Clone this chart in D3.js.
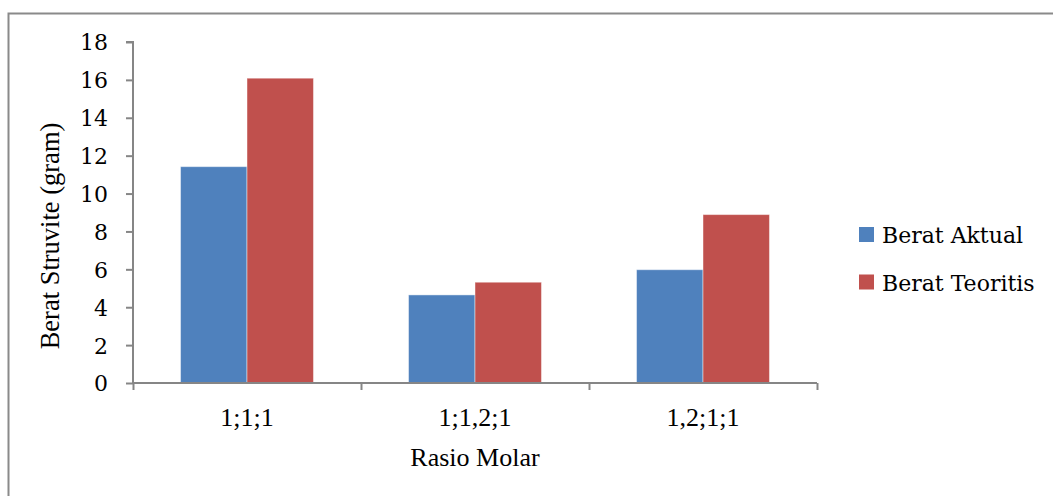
<!DOCTYPE html>
<html>
<head>
<meta charset="utf-8">
<script src="https://cdn.jsdelivr.net/npm/d3@7"></script>
<style>
  body { margin: 0; background: #fff; }
  svg { display: block; }
</style>
</head>
<body>
<svg id="chart" width="1053" height="496"></svg>
<script>
const categories = ["1;1;1", "1;1,2;1", "1,2;1;1"];
const seriesNames = ["Berat Aktual", "Berat Teoritis"];
const beratAktual = [11.42, 4.65, 5.98];
const beratTeoritis = [16.09, 5.32, 8.89];
const yTicks = [0, 2, 4, 6, 8, 10, 12, 14, 16, 18];
const colors = ["#4F81BD", "#C0504D"];

const plot = { left: 133, right: 817, top: 42, bottom: 383 };
const tickFont = "'DejaVu Serif', serif";
const titleFont = "'Liberation Serif', 'Times New Roman', serif";
const axisColor = "#868686";

const svg = d3.select("#chart");

// chart frame (runs off the right and bottom edge)
svg.append("rect")
  .attr("x", 8.5).attr("y", 13.5)
  .attr("width", 1100).attr("height", 600)
  .attr("fill", "none")
  .attr("stroke", "#8a8a8a")
  .attr("stroke-width", 2);

const y = d3.scaleLinear().domain([0, 18]).range([plot.bottom, plot.top]);
const x0 = d3.scaleBand().domain(categories).range([plot.left, plot.right]);
const x1 = d3.scaleBand().domain(seriesNames)
  .range([0, x0.bandwidth()]).paddingOuter(0.715);

const rows = categories.map((c, i) => ({
  cat: c,
  vals: [beratAktual[i], beratTeoritis[i]]
}));

// bars
const g = svg.append("g");
g.selectAll("g.cat")
  .data(rows)
  .join("g")
  .attr("class", "cat")
  .attr("transform", d => `translate(${x0(d.cat)},0)`)
  .selectAll("rect")
  .data(d => d.vals.map((v, k) => ({ name: seriesNames[k], v, k })))
  .join("rect")
  .attr("x", d => x1(d.name))
  .attr("width", x1.bandwidth())
  .attr("y", d => y(d.v))
  .attr("height", d => y(0) - y(d.v))
  .attr("fill", d => colors[d.k])
  .attr("stroke", "rgba(255,255,255,0.45)")
  .attr("stroke-width", 1);

// y axis
const yAxis = svg.append("g")
  .attr("transform", `translate(${plot.left},0)`)
  .call(d3.axisLeft(y).tickValues(yTicks).tickSize(7).tickPadding(18));
yAxis.selectAll("path, line").attr("stroke", axisColor).attr("stroke-width", 2);
yAxis.select(".domain").attr("d", `M-7,${plot.top}H0V${plot.bottom}`);
yAxis.selectAll("text")
  .attr("font-family", tickFont)
  .attr("font-size", 22)
  .attr("fill", "#000")
  .attr("dy", "0.36em");

// x axis: ticks on category boundaries
const xb = d3.scaleLinear().domain([0, categories.length]).range([plot.left, plot.right]);
const xAxis = svg.append("g")
  .attr("transform", `translate(0,${plot.bottom})`)
  .call(d3.axisBottom(xb).tickValues(d3.range(categories.length + 1)).tickSize(7).tickFormat(""));
xAxis.selectAll("path, line").attr("stroke", axisColor).attr("stroke-width", 2);
xAxis.select(".domain").attr("d", `M${plot.left},0H${plot.right}`);

const xLabels = svg.append("g")
  .attr("transform", `translate(0,${plot.bottom})`)
  .call(d3.axisBottom(x0).tickSize(0).tickPadding(0));
xLabels.select(".domain").remove();
xLabels.selectAll("text")
  .attr("font-family", titleFont)
  .attr("font-size", 26)
  .attr("fill", "#000")
  .attr("y", 43)
  .attr("dy", 0);

// axis titles
svg.append("text")
  .attr("x", (plot.left + plot.right) / 2)
  .attr("y", 466)
  .attr("text-anchor", "middle")
  .attr("font-family", titleFont)
  .attr("font-size", 26)
  .text("Rasio Molar");

svg.append("text")
  .attr("transform", "translate(59,236) rotate(-90)")
  .attr("text-anchor", "middle")
  .attr("font-family", titleFont)
  .attr("font-size", 26.5)
  .text("Berat Struvite (gram)");

// legend
const legend = svg.append("g")
  .attr("transform", "translate(859,227)");
const items = legend.selectAll("g")
  .data(seriesNames)
  .join("g")
  .attr("transform", (d, i) => `translate(0,${i * 47.5})`);
items.append("rect")
  .attr("width", 15).attr("height", 15)
  .attr("fill", (d, i) => colors[i]);
items.append("text")
  .attr("x", 23).attr("y", 16)
  .attr("font-family", tickFont)
  .attr("font-size", 22)
  .text(d => d);
</script>
</body>
</html>
